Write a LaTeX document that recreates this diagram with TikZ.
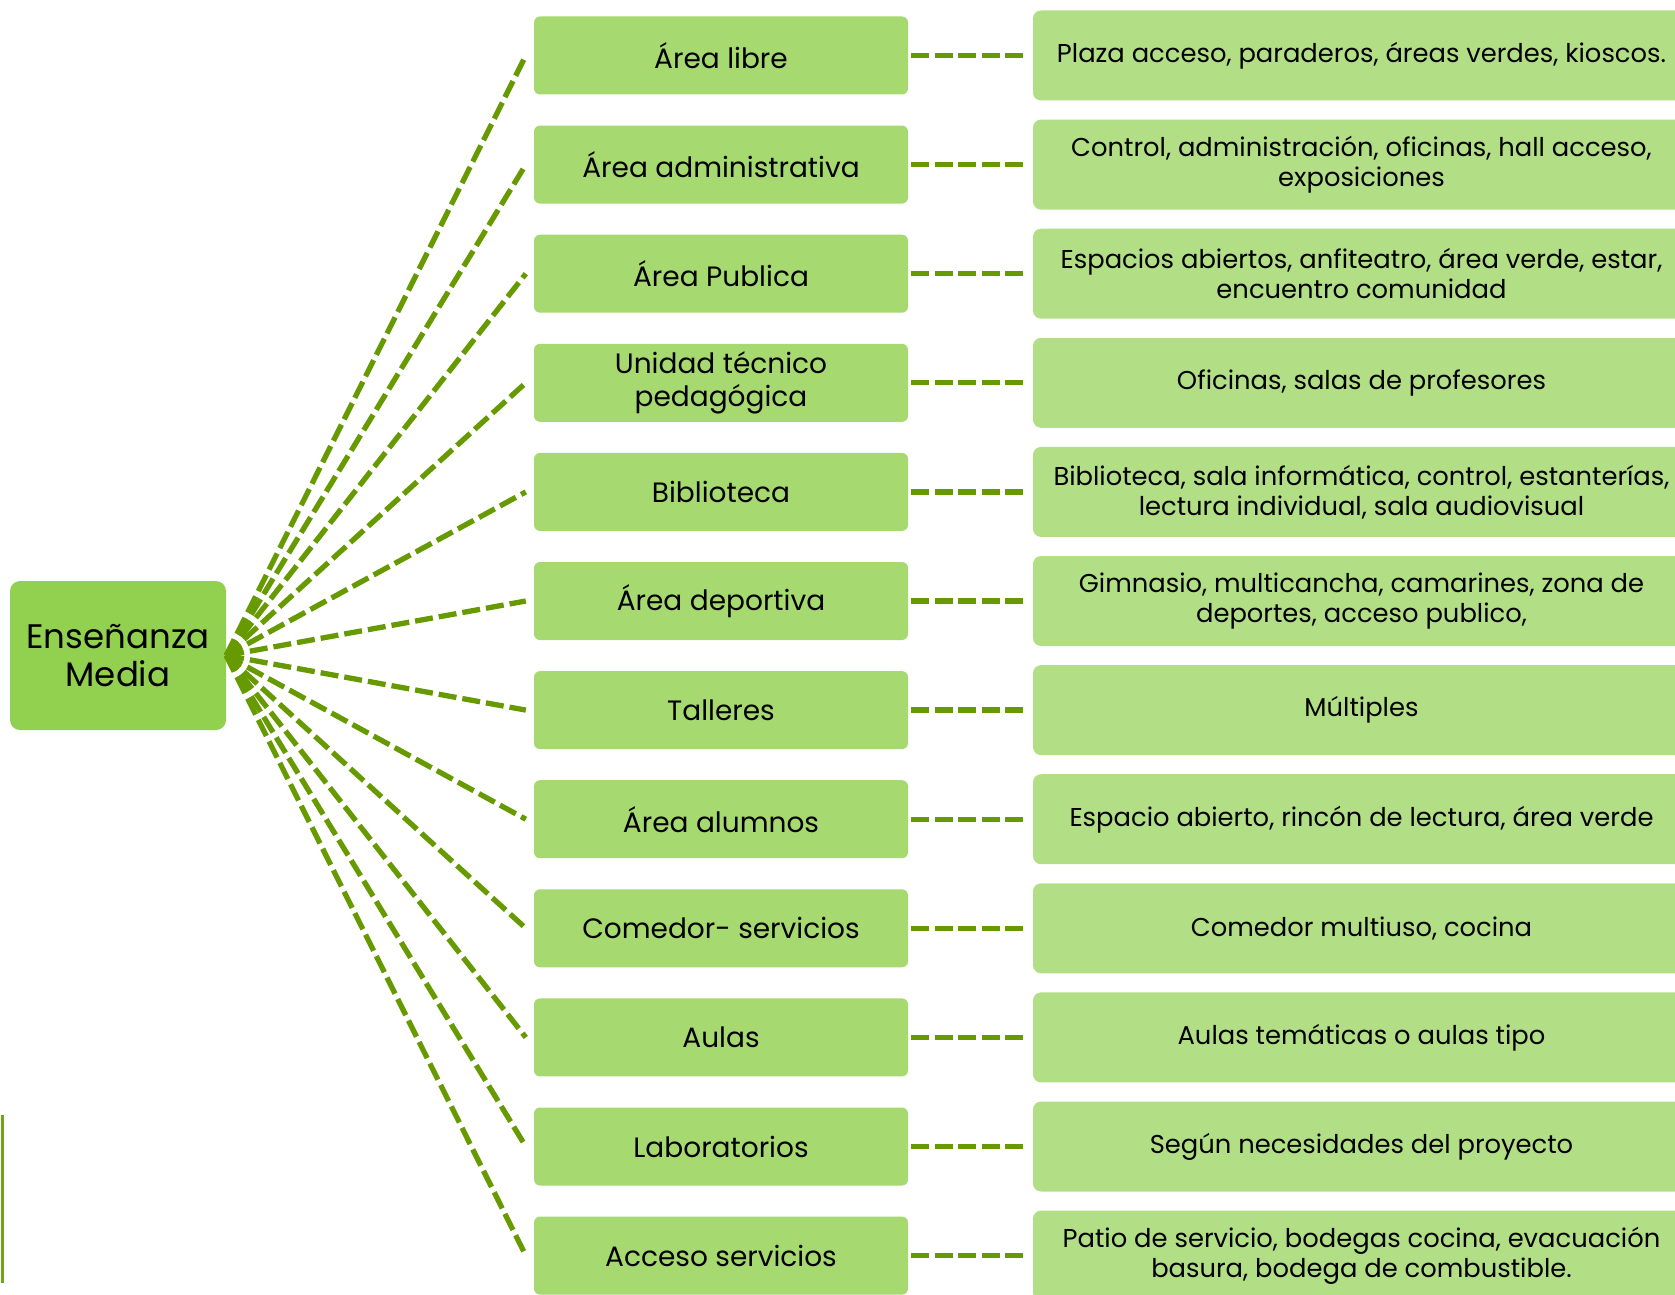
\documentclass[tikz,border=0pt]{standalone}
\usepackage{fontspec}
\setmainfont{Poppins}
\definecolor{hubgreen}{HTML}{92D050}
\definecolor{midgreen}{HTML}{A6D96F}
\definecolor{rgtgreen}{HTML}{B2DE86}
\definecolor{linegreen}{HTML}{669A00}
\definecolor{edgegreen}{HTML}{6FA51A}
\begin{document}
\begin{tikzpicture}[x=1pt,y=-1pt,
  hubbox/.style={fill=hubgreen, rounded corners=10pt, minimum width=216pt, minimum height=149pt, align=center, inner sep=0pt, font=\fontsize{34}{38.5}\selectfont},
  midbox/.style={fill=midgreen, rounded corners=6pt, minimum width=374pt, minimum height=78pt, align=center, inner sep=0pt, font=\fontsize{28}{33}\selectfont},
  rgtbox/.style={fill=rgtgreen, rounded corners=8pt, minimum width=657pt, minimum height=90pt, align=center, inner sep=0pt, font=\fontsize{25.8}{30}\selectfont},
  fanline/.style={draw=linegreen, line width=5.3pt, dash pattern=on 18pt off 6pt},
  linkline/.style={draw=linegreen, line width=5.3pt, dash pattern=on 18pt off 5.5pt}
]
\useasboundingbox (0,0) rectangle (1675,1295);
\node[hubbox] (hub) at (118,655.5) {Enseñanza\\Media};
\foreach \i/\m/\r in {
 1/{Área libre}/{Plaza acceso, paraderos, áreas verdes, kioscos.},
 2/{Área administrativa}/{Control, administración, oficinas, hall acceso,\\exposiciones},
 3/{Área Publica}/{Espacios abiertos, anfiteatro, área verde, estar,\\encuentro comunidad},
 4/{Unidad técnico\\pedagógica}/{Oficinas, salas de profesores},
 5/{Biblioteca}/{Biblioteca, sala informática, control, estanterías,\\lectura individual, sala audiovisual},
 6/{Área deportiva}/{Gimnasio, multicancha, camarines, zona de\\deportes, acceso publico,},
 7/{Talleres}/{Múltiples},
 8/{Área alumnos}/{Espacio abierto, rincón de lectura, área verde},
 9/{Comedor- servicios}/{Comedor multiuso, cocina},
 10/{Aulas}/{Aulas temáticas o aulas tipo},
 11/{Laboratorios}/{Según necesidades del proyecto},
 12/{Acceso servicios}/{Patio de servicio, bodegas cocina, evacuación\\basura, bodega de combustible.}}
{
  \pgfmathsetmacro{\yy}{55.5+109.1*(\i-1)}
  \node[midbox] (m\i) at (721,\yy) {\m};
  \node[rgtbox] (r\i) at (1361.5,\yy) {\r};
  \draw[fanline] (hub.east) -- ([xshift=-8pt]m\i.west);
  \draw[linkline] ([xshift=3pt]m\i.east) -- ([xshift=-10pt]r\i.west);
}
\draw[edgegreen, line width=3pt] (2.5,1115) -- (2.5,1283);
\end{tikzpicture}
\end{document}
